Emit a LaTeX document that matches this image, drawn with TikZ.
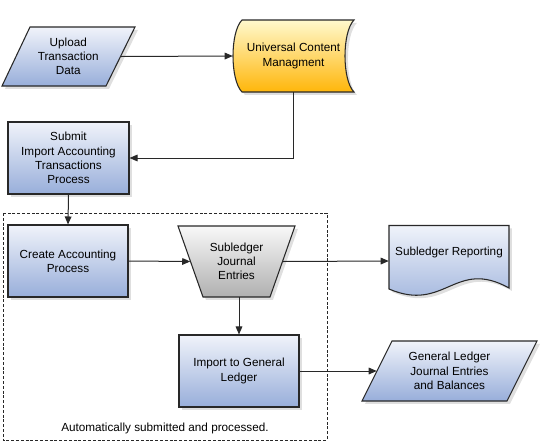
\documentclass[tikz,border=0pt]{standalone}
\usepackage{fontspec}
\setmainfont{Liberation Sans}
\usepackage{tikz}
\usetikzlibrary{shadows,arrows.meta}

\definecolor{bluetop}{RGB}{240,243,250}
\definecolor{bluebot}{RGB}{152,174,218}
\definecolor{graytop}{RGB}{248,248,248}
\definecolor{graybot}{RGB}{176,176,176}
\definecolor{ucmtop}{RGB}{255,249,205}
\definecolor{ucmbot}{RGB}{255,182,10}
\definecolor{edge}{RGB}{40,40,40}

\begin{document}
\begin{tikzpicture}[x=0.75pt,y=0.75pt,yscale=-1,xscale=1,
  font=\fontsize{8.8}{10.7}\selectfont,
  shadowed/.style={drop shadow={shadow xshift=2.2pt,shadow yshift=-2.2pt,opacity=0.25}},
  bluefill/.style={top color=bluetop,bottom color=bluebot},
  outline/.style={draw=edge,line width=0.8},
  box/.style={rectangle,outline,bluefill,shadowed,align=center,inner sep=2pt,minimum height=54pt},
  label/.style={align=center,inner sep=0pt},
  flow/.style={draw=edge,line width=0.75,-{Triangle[length=6pt,width=5pt]}}
]
\useasboundingbox (0,0) rectangle (540,444);

%Dashed frame
\draw [draw=edge, dash pattern=on 2.2pt off 1.4pt, line width=0.7] (3,213) rectangle (327,440);

%Upload parallelogram
\draw [outline, bluefill, shadowed] (30,27) -- (135,27) -- (106,86) -- (2,86) -- cycle;

%Stored data shape
\draw [outline, top color=ucmtop, bottom color=ucmbot, shadowed] (242,20) -- (354,20) .. controls (342,32) and (342,80) .. (354,92) -- (242,92) .. controls (230,80) and (230,32) .. (242,20) -- cycle;

%Manual operation shape
\draw [outline, top color=graytop, bottom color=graybot, shadowed] (178,226) -- (295,226) -- (270,297) -- (203,297) -- cycle;

%Document shape
\draw [outline, bluefill, shadowed] (389,225.5) -- (509,225.5) -- (509,288) .. controls (455,258) and (445,313) .. (389,289) -- cycle;

%GL parallelogram
\draw [outline, bluefill, shadowed] (392,341) -- (537,341) -- (507,401) -- (362,401) -- cycle;

% Text Node
\draw (68.25,56.5) node (upload) [label, minimum width=78.4pt, minimum height=44.25pt] {Upload\\Transaction\\Data};
% Text Node
\draw (293.5,56) node (ucm) [label, minimum width=90.75pt, minimum height=54pt] {Universal Content\\Managment};
% Text Node
\draw (68.5,158) node (submit) [box, minimum width=90.75pt] {Submit\\Import Accounting\\Transactions\\Process};
% Text Node
\draw (68,261) node (create) [box, minimum width=90pt] {Create Accounting\\Process};
% Text Node
\draw (236.5,261.5) node (sje) [label, minimum width=69pt, minimum height=53.25pt] {Subledger\\Journal\\Entries};
% Text Node
\draw (239,371) node (import) [box, minimum width=90pt] {Import to General\\Ledger};
% Text Node
\draw (449,261) node (subrep) [label, minimum width=90pt, minimum height=54pt, text depth=14pt] {Subledger Reporting};
% Text Node
\draw (449.5,371) node (gl) [label, minimum width=108.75pt, minimum height=45pt] {General Ledger\\Journal Entries\\and Balances};
% Text Node
\draw (165,428) node (autonote) {Automatically submitted and processed.};

%Connectors
\draw [flow] (upload.east) -- (ucm.west);
\draw [flow] (ucm.south) |- (submit.east);
\draw [flow] (submit.south) -- (create.north);
\draw [flow] (create.east) -- (sje.west);
\draw [flow] (sje.east) -- (subrep.west);
\draw [flow] (import.north |- sje.south) -- (import.north);
\draw [flow] (import.east) -- (gl.west);

\end{tikzpicture}
\end{document}
